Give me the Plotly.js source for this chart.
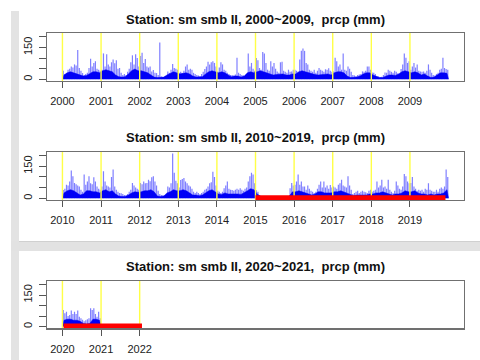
<!DOCTYPE html>
<html>
<head>
<meta charset="utf-8">
<script src="https://cdn.plot.ly/plotly-3.0.1.min.js"></script>
<style>html,body{margin:0;padding:0;background:#fff;}#chart{width:480px;height:360px;}</style>
</head>
<body>
<div id="chart"></div>
<script>
// ---- data ----
const startA = 2000, startB = 2010, startC = 2020;
const titlesText = ["Station: sm smb II, 2000~2009,\u00a0 prcp (mm)",
                    "Station: sm smb II, 2010~2019,\u00a0 prcp (mm)",
                    "Station: sm smb II, 2020~2021,\u00a0 prcp (mm)"];
const yearTicksA = [2000,2001,2002,2003,2004,2005,2006,2007,2008,2009];
const yearTicksB = [2010,2011,2012,2013,2014,2015,2016,2017,2018,2019];
const yearTicksC = [2020,2021,2022];
const yTickVals = [0,50,100,150,200];
const yTickText = ["0","","","150",""];
// half-monthly peak precipitation (mm), 24 per year
const peaksA = [
 40,25,30,45,50,60,55,70,65,138,53,40,29,20,25,30,53,97,60,77,85,50,45,40,
 45,122,60,118,70,60,80,93,75,90,50,53,30,20,25,20,35,50,80,113,70,118,100,60,
 110,125,77,95,60,55,60,37,44,30,29,20,174,13,10,12,15,37,30,45,72,53,50,45,
 30,35,29,40,60,70,45,50,45,30,25,20,18,15,25,35,48,60,82,70,80,85,77,60,
 37,55,80,70,45,40,30,25,20,20,18,22,101,30,25,20,18,15,22,122,60,77,50,40,
 100,90,53,45,129,122,77,45,40,85,60,77,50,37,30,80,82,40,35,30,45,35,37,45,
 45,40,35,93,134,145,134,77,70,45,40,35,45,30,40,53,45,40,35,47,45,52,40,35,
 37,101,85,60,70,45,122,45,40,60,50,35,20,18,15,20,22,25,37,35,40,60,60,45,
 32,30,25,15,13,10,12,20,32,30,45,40,35,30,40,35,28,25,48,70,122,101,77,85,
 45,60,77,55,70,40,37,35,37,30,40,70,45,30,20,18,25,30,45,50,101,53,48,45];
const peaksB = [
 39,45,63,60,79,130,103,71,65,60,55,40,30,111,63,79,103,70,66,98,79,55,45,40,
 55,127,79,60,55,50,100,135,55,40,30,25,23,20,15,15,20,30,40,71,60,50,45,40,
 71,65,79,70,71,87,80,98,103,79,60,35,20,15,15,13,15,55,50,70,210,119,82,70,
 50,86,90,95,79,70,60,55,45,30,25,30,25,20,25,30,40,45,55,70,75,124,100,60,
 35,30,25,30,47,60,79,45,40,38,35,40,45,40,47,40,35,45,50,79,103,119,111,70,
 37,30,15,0,0,0,0,0,0,0,0,0,0,0,0,0,0,0,0,0,0,47,71,60,
 63,79,111,63,79,55,55,40,60,45,35,30,25,30,45,63,79,50,79,50,60,45,62,50,
 55,50,45,63,70,87,60,55,50,103,60,40,20,25,30,35,25,30,35,30,28,25,35,40,
 30,35,40,79,50,60,87,50,55,45,87,40,30,25,35,79,60,45,40,55,114,103,79,70,
 71,100,55,45,35,40,35,40,30,45,40,70,40,35,30,30,40,30,45,50,45,55,135,100];
const peaksC = [79,63,71,50,55,76,60,71,60,76,47,40,32,25,30,35,40,87,79,87,60,47,71,40];
// monthly level of the dense (dark) part, 12 per year
const baseA = [
 20,30,35,30,25,20,15,18,25,35,35,30,
 40,45,40,35,20,12,10,12,25,40,48,40,
 40,35,30,20,10,8,8,10,20,29,35,30,
 25,28,30,25,15,10,10,12,25,35,40,35,
 30,35,30,20,12,15,15,10,15,30,35,30,
 35,40,35,30,28,20,22,25,25,20,20,25,
 25,35,40,35,30,25,22,20,22,25,25,20,
 30,35,35,30,15,8,8,10,15,25,30,30,
 20,15,8,8,15,20,20,18,25,35,40,35,
 30,35,30,20,25,15,8,10,20,30,30,28];
const baseB = [
 25,35,40,35,25,15,20,35,35,30,30,25,
 35,40,30,35,20,10,8,8,15,25,30,28,
 30,35,35,40,30,10,8,10,25,30,40,35,
 35,40,35,25,15,15,12,15,25,35,40,30,
 20,18,25,20,20,22,20,18,25,35,45,40,
 20,10,0,0,0,0,0,0,0,0,10,30,
 30,35,30,25,20,15,20,30,30,25,25,25,
 30,30,35,30,25,20,12,15,15,15,15,20,
 20,25,25,30,25,20,15,20,20,25,35,30,
 30,35,25,20,20,15,20,15,20,20,25,40];
const baseC = [30,35,35,30,30,25,15,12,15,35,35,30];
// missing-data periods (drawn in red at 0)
const missB = [2015.0, 2019.92];
const missC = [2020.03, 2022.06];
const yMin = -8.4, yMax = 218.4;

// ---- build ----
function spikes(start, vals, perYear, ax) {
  const x = [], y = [];
  vals.forEach((v, i) => { const t = start + (i + 0.5) / perYear; x.push(t, t, null); y.push(0, v, null); });
  return {type:'scatter', mode:'lines', x, y, xaxis:'x'+ax, yaxis:'y'+ax,
          line:{color:'rgba(0,0,255,0.5)', width:1.2}, hoverinfo:'skip', showlegend:false};
}
function base(start, vals, ax) {
  const x = [start], y = [0];
  vals.forEach((v, i) => { x.push(start + (i + 0.5) / 12); y.push(v); });
  x.push(start + vals.length / 12); y.push(0);
  return {type:'scatter', mode:'lines', x, y, xaxis:'x'+ax, yaxis:'y'+ax, fill:'tozeroy',
          fillcolor:'rgb(0,0,240)', line:{color:'rgb(0,0,240)', width:0.5}, hoverinfo:'skip', showlegend:false};
}
function yellow(ticks, ax) {
  const x = [], y = [];
  ticks.forEach(t => { x.push(t, t, null); y.push(yMin, yMax, null); });
  return {type:'scatter', mode:'lines', x, y, xaxis:'x'+ax, yaxis:'y'+ax,
          line:{color:'rgb(255,255,70)', width:1.4}, hoverinfo:'skip', showlegend:false};
}
function miss(m, ax) {
  return {type:'scatter', mode:'lines', x:[m[0], m[1]], y:[0, 0], xaxis:'x'+ax, yaxis:'y'+ax,
          line:{color:'rgb(255,0,0)', width:6}, hoverinfo:'skip', showlegend:false};
}
const traces = [
  base(startA, baseA, ''), spikes(startA, peaksA, 24, ''), yellow(yearTicksA, ''),
  base(startB, baseB, '2'), spikes(startB, peaksB, 24, '2'), yellow(yearTicksB, '2'), miss(missB, '2'),
  base(startC, baseC, '3'), spikes(startC, peaksC, 24, '3'), yellow(yearTicksC, '3'), miss(missC, '3')
];

const W = 480, H = 360;
const xl = 47 / W, xr = 464 / W;
const panelsPx = [[33, 81], [151.7, 200], [280.7, 328.3]];
const tickFont = {family:'Liberation Sans, Arial, sans-serif', size:11, color:'#222'};
function xAx(ticks, start, anchor) {
  return {domain:[xl, xr], anchor, range:[start - 0.4, start + 10.4], tickvals:ticks, ticktext:ticks.map(String),
          ticks:'outside', ticklen:6, tickwidth:1, tickcolor:'#555', showline:true, mirror:true,
          linecolor:'#707070', linewidth:1.2, showgrid:false, zeroline:false, tickfont:tickFont,
          ticklabelstandoff:4, fixedrange:true};
}
function yAx(p, anchor) {
  return {domain:[1 - p[1] / H, 1 - p[0] / H], anchor, range:[yMin, yMax], tickvals:yTickVals, ticktext:yTickText,
          tickangle:-90, ticks:'outside', ticklen:7, tickwidth:1, tickcolor:'#555', showline:true, mirror:true,
          linecolor:'#707070', linewidth:1.2, showgrid:false, zeroline:false, tickfont:tickFont,
          ticklabelstandoff:2, fixedrange:true};
}
const annotations = panelsPx.map((p, i) => ({
  text:'<b>' + titlesText[i] + '</b>', xref:'paper', yref:'paper', x:(xl + xr) / 2,
  y:1 - (p[0] - 14) / H, xanchor:'center', yanchor:'middle', showarrow:false,
  font:{family:'Liberation Sans, Arial, sans-serif', size:13, color:'#111'}
}));
const shapes = [
  {type:'rect', xref:'paper', yref:'paper', x0:11 / W, x1:19 / W, y0:0, y1:1 - 11 / H, fillcolor:'#e3e3e3', line:{width:0}, layer:'below'},
  {type:'rect', xref:'paper', yref:'paper', x0:11 / W, x1:1, y0:1 - 251 / H, y1:1 - 241 / H, fillcolor:'#e2e2e2', line:{width:0}, layer:'below'},
  {type:'line', xref:'paper', yref:'paper', x0:19 / W, x1:1, y0:1 - 241.5 / H, y1:1 - 241.5 / H, line:{color:'#d0d0d0', width:1}, layer:'below'}
];
const layout = {
  width:W, height:H, margin:{l:0, r:0, t:0, b:0}, paper_bgcolor:'#fff', plot_bgcolor:'#fff',
  showlegend:false,
  xaxis:xAx(yearTicksA, startA, 'y'), yaxis:yAx(panelsPx[0], 'x'),
  xaxis2:xAx(yearTicksB, startB, 'y2'), yaxis2:yAx(panelsPx[1], 'x2'),
  xaxis3:xAx(yearTicksC, startC, 'y3'), yaxis3:yAx(panelsPx[2], 'x3'),
  annotations, shapes
};
Plotly.newPlot('chart', traces, layout, {staticPlot:true, displayModeBar:false});
</script>
</body>
</html>
